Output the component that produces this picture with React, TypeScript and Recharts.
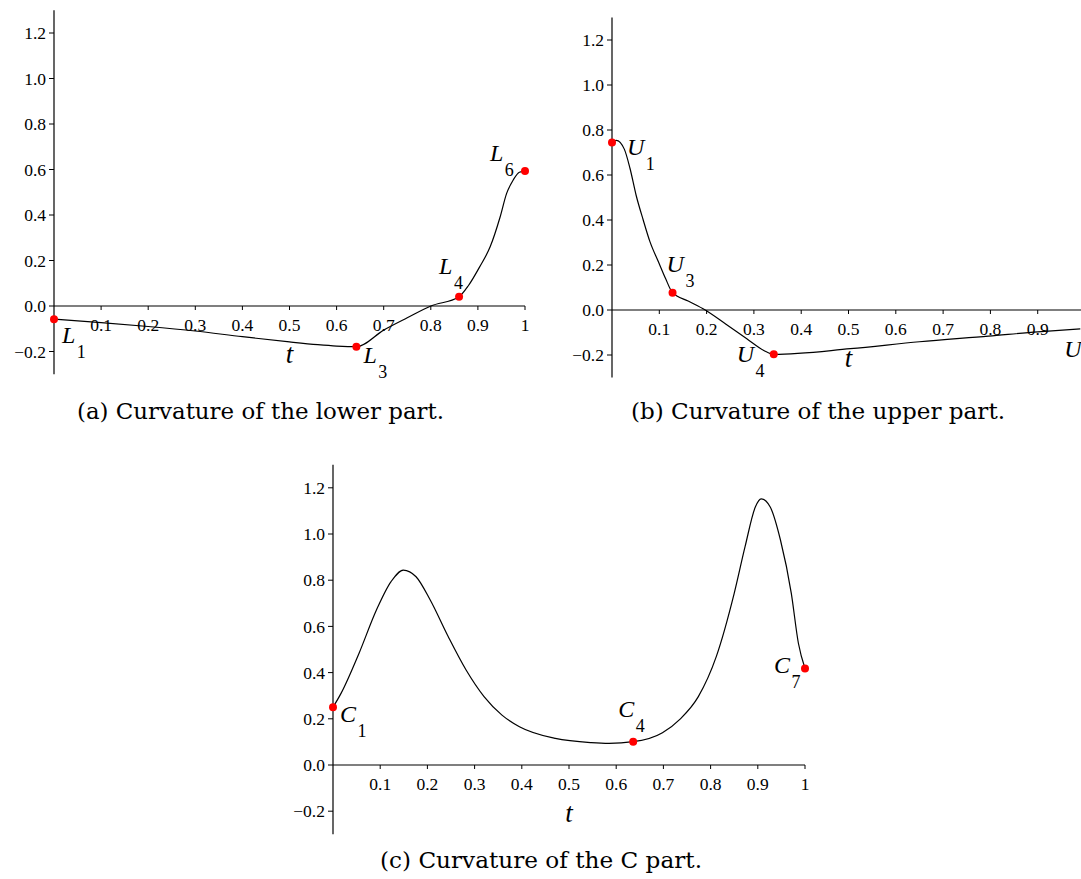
import React from 'react';
import { ComposedChart, Line, Scatter, XAxis, YAxis, ReferenceLine } from 'recharts';

const SERIF = 'Liberation Serif';
const CAPTION_FONT = 'DejaVu Serif';

// ---------- shared ticks ----------
const yTickValues = [-0.2, 0, 0.2, 0.4, 0.6, 0.8, 1.0, 1.2];
const xTickValuesFull = [0.1, 0.2, 0.3, 0.4, 0.5, 0.6, 0.7, 0.8, 0.9, 1];
const xTickLabelsFull = ['0.1', '0.2', '0.3', '0.4', '0.5', '0.6', '0.7', '0.8', '0.9', '1'];
const xTickValuesUpper = [0.1, 0.2, 0.3, 0.4, 0.5, 0.6, 0.7, 0.8, 0.9];
const xTickLabelsUpper = ['0.1', '0.2', '0.3', '0.4', '0.5', '0.6', '0.7', '0.8', '0.9'];

// ---------- (a) lower part ----------
const lowerT = [0, 0.1, 0.2, 0.3, 0.4, 0.5, 0.56, 0.6, 0.642, 0.7, 0.75, 0.8, 0.86, 0.88, 0.904, 0.926, 0.947, 0.961, 0.975, 0.988, 1.0];
const lowerK = [-0.058, -0.073, -0.09, -0.11, -0.135, -0.158, -0.17, -0.176, -0.179, -0.106, -0.052, 0.0, 0.041, 0.09, 0.173, 0.26, 0.39, 0.495, 0.554, 0.588, 0.593];
const lowerMarkT = [0, 0.642, 0.86, 1.0];
const lowerMarkK = [-0.058, -0.179, 0.041, 0.593];
const lowerMarkLetter = ['L', 'L', 'L', 'L'];
const lowerMarkSub = ['1', '3', '4', '6'];

// ---------- (b) upper part ----------
const upperT = [0, 0.009, 0.026, 0.038, 0.051, 0.066, 0.08, 0.099, 0.113, 0.128, 0.161, 0.197, 0.241, 0.285, 0.321, 0.342, 0.504, 0.65, 0.796, 0.9, 0.99];
const upperK = [0.745, 0.754, 0.715, 0.63, 0.51, 0.4, 0.305, 0.21, 0.141, 0.077, 0.04, 0, -0.063, -0.128, -0.18, -0.197, -0.172, -0.141, -0.116, -0.097, -0.084];
const upperMarkT = [0, 0.128, 0.342];
const upperMarkK = [0.745, 0.077, -0.197];
const upperMarkLetter = ['U', 'U', 'U'];
const upperMarkSub = ['1', '3', '4'];
const upperEdgeT = [0.99];
const upperEdgeK = [-0.084];
const upperEdgeLetter = ['U'];
const upperEdgeSub = [''];

// ---------- (c) C part ----------
const cT = [0, 0.017, 0.055, 0.092, 0.123, 0.149, 0.176, 0.206, 0.244, 0.282, 0.32, 0.358, 0.395, 0.471, 0.547, 0.585, 0.636, 0.698, 0.736, 0.774, 0.812, 0.85, 0.873, 0.895, 0.907, 0.926, 0.948, 0.971, 0.986, 1.0];
const cK = [0.25, 0.31, 0.483, 0.671, 0.794, 0.844, 0.815, 0.714, 0.556, 0.411, 0.296, 0.216, 0.166, 0.115, 0.097, 0.094, 0.101, 0.14, 0.2, 0.296, 0.469, 0.743, 0.945, 1.118, 1.152, 1.118, 0.974, 0.743, 0.527, 0.418];
const cMarkT = [0, 0.636, 1.0];
const cMarkK = [0.25, 0.101, 0.418];
const cMarkLetter = ['C', 'C', 'C'];
const cMarkSub = ['1', '4', '7'];

const captions = ['(a) Curvature of the lower part.', '(b) Curvature of the upper part.', '(c) Curvature of the C part.'];
const axisLabelText = 't';

// ---------- label placement (style) ----------
const labelOffsets: Record<string, [number, number]> = {
  L1: [8, 24], L3: [7, 16], L4: [-20, -23], L6: [-35, -10],
  U1: [15, 12.5], U3: [-6, -21], U4: [-37, 7.5], U: [-16, 28],
  C1: [7, 14.5], C4: [-15, -25], C7: [-31, 5],
};

const zip = (ts: number[], ks: number[]) => ts.map((t, i) => ({ t, k: ks[i] }));
const marks = (ts: number[], ks: number[], letters: string[], subs: string[], dot: boolean) =>
  ts.map((t, i) => ({ t, k: ks[i], letter: letters[i], sub: subs[i], dot }));
const tickRows = (vals: number[], labels: string[]) => vals.map((t, i) => ({ t, k: 0, label: labels[i] }));

const fmtY = (v: number) => (v < 0 ? '\u2212' + Math.abs(v).toFixed(1) : v.toFixed(1));

const MarkShape = (props: any) => {
  const { cx, cy, payload } = props;
  const off = labelOffsets[payload.letter + payload.sub] || [0, 0];
  return (
    <g>
      {payload.dot && <circle cx={cx} cy={cy} r={4} fill="#ff0000" />}
      <text x={cx + off[0]} y={cy + off[1]} fontFamily={SERIF} fontSize={24} fill="#000">
        <tspan fontStyle="italic">{payload.letter}</tspan>
        {payload.sub ? <tspan fontSize={18} dx={1.5} dy={15}>{payload.sub}</tspan> : null}
      </text>
    </g>
  );
};

const XTickShape = (props: any) => {
  const { cx, cy, payload } = props;
  return (
    <g>
      <line x1={cx} x2={cx} y1={cy} y2={cy + 4} stroke="#000" strokeWidth={1} />
      <text x={cx} y={cy + 25} textAnchor="middle" fontFamily={SERIF} fontSize={17.5} fill="#000">
        {payload.label}
      </text>
    </g>
  );
};

const AxisLabelShape = (props: any) => {
  const { cx, cy, payload } = props;
  return (
    <text x={cx} y={cy + 57} textAnchor="middle" fontFamily={SERIF} fontStyle="italic" fontSize={27} fill="#000">
      {payload.label}
    </text>
  );
};

type PanelProps = {
  left: number; top: number; width: number; height: number;
  margin: { top: number; right: number; bottom: number; left: number };
  yAxisWidth: number; xMax: number;
  curve: { t: number; k: number }[];
  markRows: any[];
  ticks: any[];
};

const Panel = ({ left, top, width, height, margin, yAxisWidth, xMax, curve, markRows, ticks }: PanelProps) => (
  <div style={{ position: 'absolute', left, top, width, height }}>
    <ComposedChart width={width} height={height} margin={margin}>
      <XAxis type="number" dataKey="t" domain={[0, xMax]} hide />
      <YAxis
        type="number"
        dataKey="k"
        domain={[-0.3, 1.3]}
        ticks={yTickValues}
        interval={0}
        width={yAxisWidth}
        tickFormatter={fmtY}
        tickSize={5}
        tickMargin={3}
        axisLine={{ stroke: '#000', strokeWidth: 1.2 }}
        tickLine={{ stroke: '#000', strokeWidth: 1 }}
        tick={{ fontSize: 17.5, fill: '#000', fontFamily: SERIF }}
      />
      <ReferenceLine y={0} stroke="#000" strokeWidth={1.2} />
      <Scatter data={ticks} dataKey="k" shape={XTickShape} isAnimationActive={false} />
      <Scatter data={[{ t: 0.5, k: 0, label: axisLabelText }]} dataKey="k" shape={AxisLabelShape} isAnimationActive={false} />
      <Line data={curve} dataKey="k" type="monotone" stroke="#000" strokeWidth={1.2} dot={false} activeDot={false} isAnimationActive={false} />
      <Scatter data={markRows} dataKey="k" shape={MarkShape} isAnimationActive={false} />
    </ComposedChart>
  </div>
);

const Caption = ({ x, y, w, text }: { x: number; y: number; w: number; text: string }) => (
  <text x={x} y={y} textAnchor="middle" fontFamily={CAPTION_FONT} fontSize={21.5} fill="#000" textLength={w} lengthAdjust="spacingAndGlyphs">
    {text}
  </text>
);

export default function App() {
  return (
    <div style={{ position: 'absolute', left: 0, top: 0, width: 1081, height: 879, overflow: 'hidden', background: '#fff' }}>
      <svg width={1081} height={879} style={{ position: 'absolute', left: 0, top: 0 }}>
        <Caption x={260.5} y={419} w={367} text={captions[0]} />
        <Caption x={818} y={419} w={374} text={captions[1]} />
        <Caption x={541} y={868} w={322} text={captions[2]} />
      </svg>
      <Panel
        left={0} top={0} width={560} height={390}
        margin={{ top: 10.25, right: 35, bottom: 15.75, left: 0 }}
        yAxisWidth={54} xMax={1}
        curve={zip(lowerT, lowerK)}
        markRows={marks(lowerMarkT, lowerMarkK, lowerMarkLetter, lowerMarkSub, true)}
        ticks={tickRows(xTickValuesFull, xTickLabelsFull)}
      />
      <Panel
        left={540} top={0} width={541} height={390}
        margin={{ top: 17.5, right: 0, bottom: 12.5, left: 0 }}
        yAxisWidth={72} xMax={0.9915}
        curve={zip(upperT, upperK)}
        markRows={[
          ...marks(upperMarkT, upperMarkK, upperMarkLetter, upperMarkSub, true),
          ...marks(upperEdgeT, upperEdgeK, upperEdgeLetter, upperEdgeSub, false),
        ]}
        ticks={tickRows(xTickValuesUpper, xTickLabelsUpper)}
      />
      <Panel
        left={270} top={440} width={570} height={410}
        margin={{ top: 24.7, right: 35, bottom: 15.7, left: 0 }}
        yAxisWidth={63} xMax={1}
        curve={zip(cT, cK)}
        markRows={marks(cMarkT, cMarkK, cMarkLetter, cMarkSub, true)}
        ticks={tickRows(xTickValuesFull, xTickLabelsFull)}
      />
    </div>
  );
}
